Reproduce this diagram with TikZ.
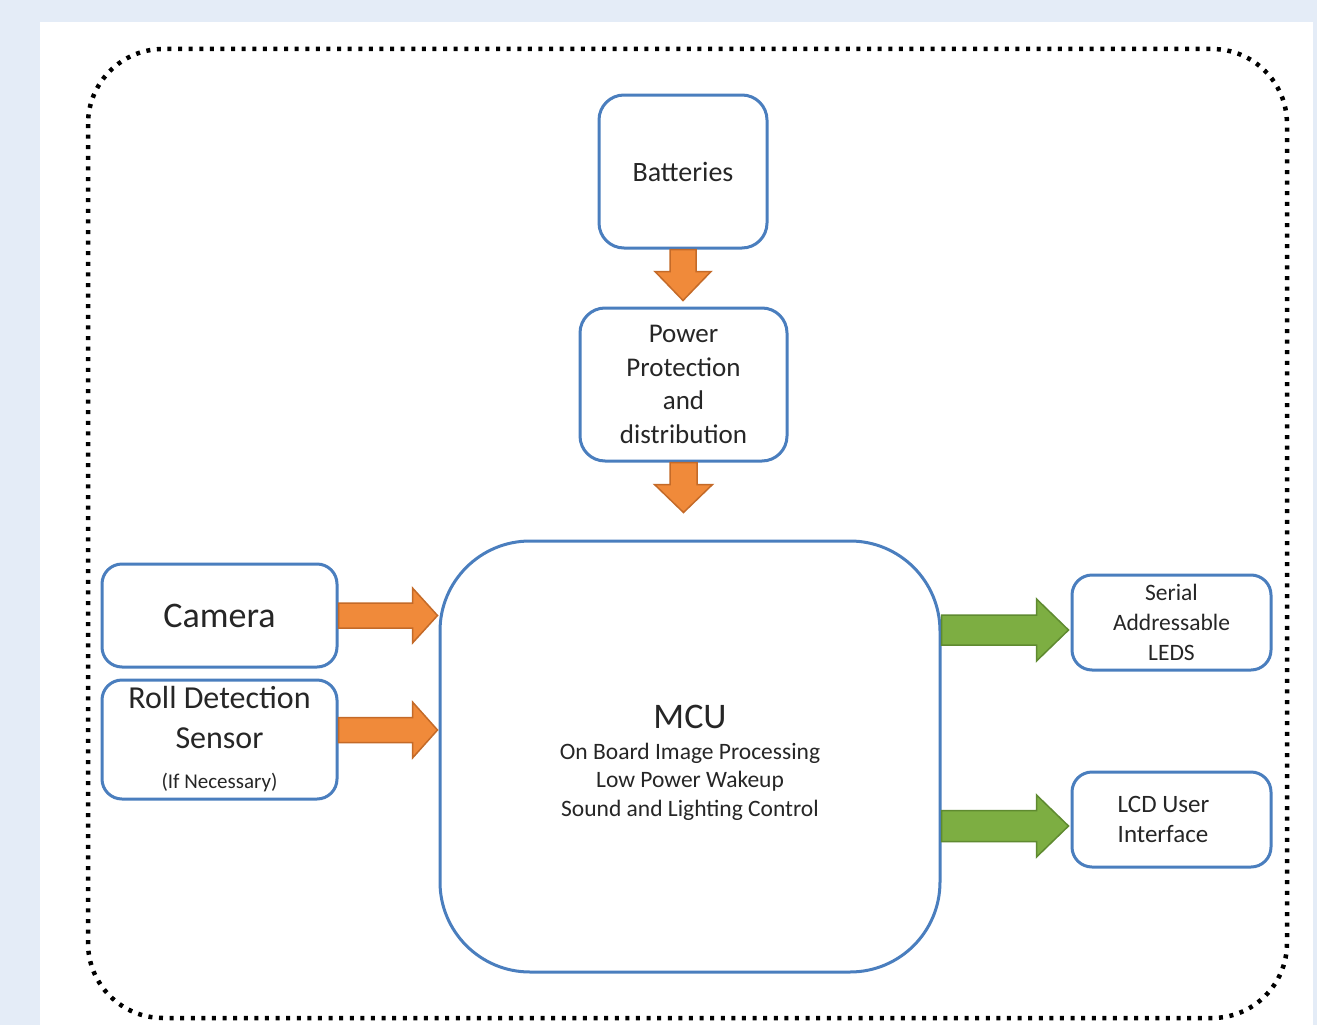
\documentclass[tikz,border=0pt]{standalone}
\usepackage{fontspec}
\setmainfont{Carlito}
\usetikzlibrary{calc}
\definecolor{bgblue}{RGB}{228,236,247}
\definecolor{boxblue}{RGB}{74,126,190}
\definecolor{txt}{RGB}{38,38,38}
\definecolor{ofill}{RGB}{240,138,58}
\definecolor{odraw}{RGB}{196,106,40}
\definecolor{gfill}{RGB}{125,174,66}
\definecolor{gdraw}{RGB}{95,138,48}
\tikzset{
  box/.style={draw=boxblue, line width=3pt, fill=white, inner sep=0pt, align=center, text=txt},
  oarr/.style={fill=ofill, draw=odraw, line width=1.5pt, line join=miter},
  garr/.style={fill=gfill, draw=gdraw, line width=1.5pt, line join=miter},
  dotframe/.style={line width=4.5pt, dash pattern=on 4pt off 6.6pt}
}
% #1 start, #2 tip, #3 shaft half width, #4 head half width, #5 head length, #6 style
\newcommand\fatarrow[6]{%
  \coordinate (fa-h) at ($(#2)!#5!(#1)$);
  \draw[#6] ($(#1)!#3!90:(#2)$) -- ($(fa-h)!#3!90:(#2)$) -- ($(fa-h)!#4!90:(#2)$)
    -- (#2) -- ($(fa-h)!#4!-90:(#2)$) -- ($(fa-h)!#3!-90:(#2)$) -- ($(#1)!#3!-90:(#2)$) -- cycle;
}
\begin{document}
\begin{tikzpicture}[x=1pt,y=-1pt]
\useasboundingbox (0,0) rectangle (1317,1025);
\fill[bgblue] (0,0) rectangle (1317,1025);
\fill[white] (40,22) rectangle (1313,1025);
\draw[dotframe, rounded corners=75pt] (88,49) rectangle (1287,1018);

\node[box, minimum width=168pt, minimum height=153pt, rounded corners=25pt,
  font=\fontsize{28}{33.5}\selectfont] (bat) at (683,171.5) {Batteries};
\node[box, minimum width=207pt, minimum height=153pt, rounded corners=25pt,
  font=\fontsize{27}{33.5}\selectfont] (pow) at (683.5,384.5)
  {Power\\Protection\\and\\distribution};
\node[box, minimum width=500pt, minimum height=431pt, rounded corners=90pt,
  font=\fontsize{23.5}{28.5}\selectfont] (mcu) at (690,756.5)
  {{\fontsize{36}{36}\selectfont\rule{0pt}{36pt}MCU}\\[2pt]On Board Image Processing\\Low Power Wakeup\\Sound and Lighting Control};
\node[box, minimum width=235pt, minimum height=103pt, rounded corners=20pt,
  font=\fontsize{36}{40}\selectfont] (cam) at (219.5,615.5) {Camera};
\node[box, minimum width=235pt, minimum height=119pt, rounded corners=20pt,
  font=\fontsize{32}{40}\selectfont] (roll) at (219.5,739.5)
  {Roll Detection\\Sensor\\{\fontsize{21}{22}\selectfont (If Necessary)}};
\node[box, minimum width=199pt, minimum height=95pt, rounded corners=20pt,
  font=\fontsize{23.5}{30}\selectfont] (led) at (1171.5,622.5)
  {Serial\\Addressable\\LEDS};
\node[box, minimum width=199pt, minimum height=95pt, rounded corners=20pt] (lcd) at (1171.5,819.5) {};
\node[text=txt, align=left, inner sep=0pt, font=\fontsize{25}{30}\selectfont] (lcdtxt)
  at ($(lcd.center)+(-8,0)$) {LCD User\\Interface};

\coordinate (a1t) at ($(bat.south |- pow.north)+(0,-6)$);
\fatarrow{bat.south}{a1t}{13pt}{28pt}{29pt}{oarr}
\coordinate (a2t) at ($(pow.south |- mcu.north)+(0,-27)$);
\fatarrow{pow.south}{a2t}{13.5pt}{29pt}{28pt}{oarr}
\coordinate (a3t) at ($(cam.east -| mcu.west)+(-1,0)$);
\fatarrow{cam.east}{a3t}{12.5pt}{27.5pt}{25pt}{oarr}
\coordinate (a4s) at ($(roll.east)+(0,-9.5)$);
\coordinate (a4t) at ($(a4s -| mcu.west)+(-1,0)$);
\fatarrow{a4s}{a4t}{12.5pt}{28pt}{25pt}{oarr}
\coordinate (g1s) at ($(mcu.east |- led.west)+(0,7.5)$);
\coordinate (g1t) at ($(led.west)+(-2,7.5)$);
\fatarrow{g1s}{g1t}{15pt}{31pt}{32pt}{garr}
\coordinate (g2s) at ($(mcu.east |- lcd.west)+(0,6.5)$);
\coordinate (g2t) at ($(lcd.west)+(-2,6.5)$);
\fatarrow{g2s}{g2t}{15.5pt}{31pt}{32pt}{garr}
\end{tikzpicture}
\end{document}
